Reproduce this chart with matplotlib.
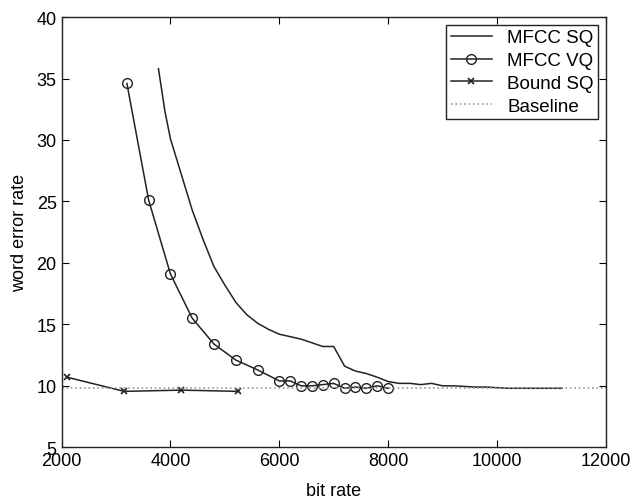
import matplotlib
matplotlib.use("Agg")
import matplotlib.pyplot as plt

# MFCC SQ (plain line)
sq_rate = [3780, 3900, 4000, 4200, 4400, 4600, 4800, 5000, 5200, 5400, 5600, 5800,
           6000, 6200, 6400, 6600, 6800, 7000, 7200, 7400, 7600, 7800, 8000, 8200,
           8400, 8600, 8800, 9000, 9200, 9400, 9600, 9800, 10000, 10200, 10400,
           10600, 10800, 11000, 11200]
sq_wer = [35.8, 32.3, 30.1, 27.2, 24.3, 21.9, 19.7, 18.2, 16.8, 15.8, 15.1, 14.6,
          14.2, 14.0, 13.8, 13.5, 13.2, 13.2, 11.6, 11.2, 11.0, 10.7, 10.35, 10.2,
          10.2, 10.1, 10.2, 10.0, 10.0, 9.95, 9.9, 9.9, 9.85, 9.8, 9.8,
          9.8, 9.8, 9.8, 9.8]

# MFCC VQ (circles)
vq_rate = [3200, 3600, 4000, 4400, 4800, 5200, 5600, 6000, 6200, 6400, 6600,
           6800, 7000, 7200, 7400, 7600, 7800, 8000]
vq_wer = [34.6, 25.1, 19.1, 15.5, 13.4, 12.1, 11.3, 10.4, 10.4, 10.0, 10.0,
          10.1, 10.2, 9.8, 9.9, 9.8, 10.0, 9.8]

# Bound SQ (crosses)
bound_rate = [2100, 3150, 4200, 5250]
bound_wer = [10.7, 9.55, 9.65, 9.55]

# Baseline
base_rate = [2000, 12000]
base_wer = [9.8, 9.8]

plt.rcParams['font.family'] = ['Liberation Sans', 'DejaVu Sans']
plt.rcParams['font.size'] = 13

fig = plt.figure(figsize=(6.35, 5.02), dpi=100)
ax = fig.add_axes([0.097, 0.107, 0.857, 0.857])

ax.plot(sq_rate, sq_wer, color='#222222', lw=1.1, label='MFCC SQ')
ax.plot(vq_rate, vq_wer, color='#222222', lw=1.1, marker='o', ms=7,
        mfc='none', mec='#222222', mew=1.0, label='MFCC VQ')
ax.plot(bound_rate, bound_wer, color='#222222', lw=1.1, marker='x', ms=4,
        mew=1.2, label='Bound SQ')
ax.plot(base_rate, base_wer, color='#999999', lw=1.2, ls=':', label='Baseline')

ax.set_xlim(2000, 12000)
ax.set_ylim(5, 40)
ax.set_xticks(range(2000, 12001, 2000))
ax.set_yticks(range(5, 41, 5))
ax.tick_params(direction='in', top=True, right=True, length=5, labelsize=13)
for s in ax.spines.values():
    s.set_linewidth(1.0)
    s.set_color('#222222')

ax.set_xlabel('bit rate', fontsize=13, labelpad=9)
ax.set_ylabel('word error rate', fontsize=13, labelpad=6)

leg = ax.legend(loc='upper right', fancybox=False, framealpha=1,
                edgecolor='#222222', fontsize=13.5, handlelength=2.2,
                borderaxespad=0.4, labelspacing=0.3, borderpad=0.25)
leg.get_frame().set_linewidth(1.0)

fig.savefig('out.png', dpi=100)
